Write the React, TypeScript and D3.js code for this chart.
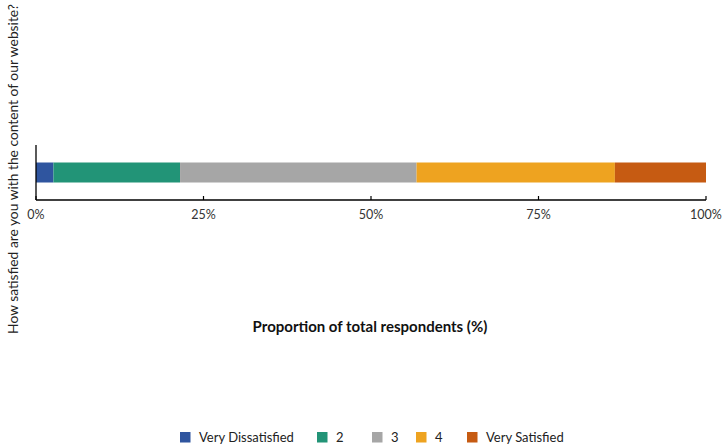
import React from "react";
import * as d3 from "d3";

const categories = ["Very Dissatisfied", "2", "3", "4", "Very Satisfied"];
const values = [2.6, 18.9, 35.3, 29.6, 13.6];
const colors = ["#2F559F", "#229477", "#A6A6A6", "#EEA320", "#C65B12"];
const tickValues = [0, 25, 50, 75, 100];
const question = "How satisfied are you with the content of our website?";
const xTitle = "Proportion of total respondents (%)";

const W = 723;
const H = 446;
const FONT = "Lato, 'Open Sans', sans-serif";

export default function App() {
  const x = d3.scaleLinear().domain([0, 100]).range([36, 706]);
  const y = d3.scaleBand().domain([question]).range([145, 200]).paddingInner(0).paddingOuter(0.875);
  const stackData = [Object.fromEntries(categories.map((c, i) => [c, values[i]]))];
  const series = d3.stack<any>().keys(categories)(stackData as any);
  const legendX = [180, 317, 372, 416, 467];
  return (
    <svg width={W} height={H} style={{ position: "absolute", left: 0, top: 0 }} fontFamily={FONT}>
      <rect width={W} height={H} fill="#fff" />
      {series.map((s, i) => (
        <rect
          key={categories[i]}
          x={x(s[0][0])}
          width={x(s[0][1]) - x(s[0][0])}
          y={y(question)!}
          height={y.bandwidth()}
          fill={colors[i]}
        />
      ))}
      <line x1={36} x2={36} y1={145} y2={200} stroke="#000" strokeWidth={1.3} />
      <line x1={36} x2={706} y1={200} y2={200} stroke="#000" strokeWidth={1.3} />
      {tickValues.map((t) => (
        <g key={t}>
          <line x1={x(t)} x2={x(t)} y1={200} y2={196} stroke="#000" strokeWidth={1.2} />
          <text x={x(t)} y={219} textAnchor="middle" fontSize={12.5} fill="#333">
            {t}%
          </text>
        </g>
      ))}
      <text x={370} y={332} textAnchor="middle" fontSize={15} fontWeight="bold" fill="#111">
        {xTitle}
      </text>
      <text
        transform={`translate(18,169) rotate(-90)`}
        textAnchor="middle"
        fontSize={13.8}
        fill="#222"
      >
        {question}
      </text>
      {categories.map((c, i) => (
        <g key={c}>
          <rect x={legendX[i]} y={432} width={10.5} height={10.5} fill={colors[i]} />
          <text x={legendX[i] + 19} y={442} fontSize={13} fill="#222">
            {c}
          </text>
        </g>
      ))}
    </svg>
  );
}
